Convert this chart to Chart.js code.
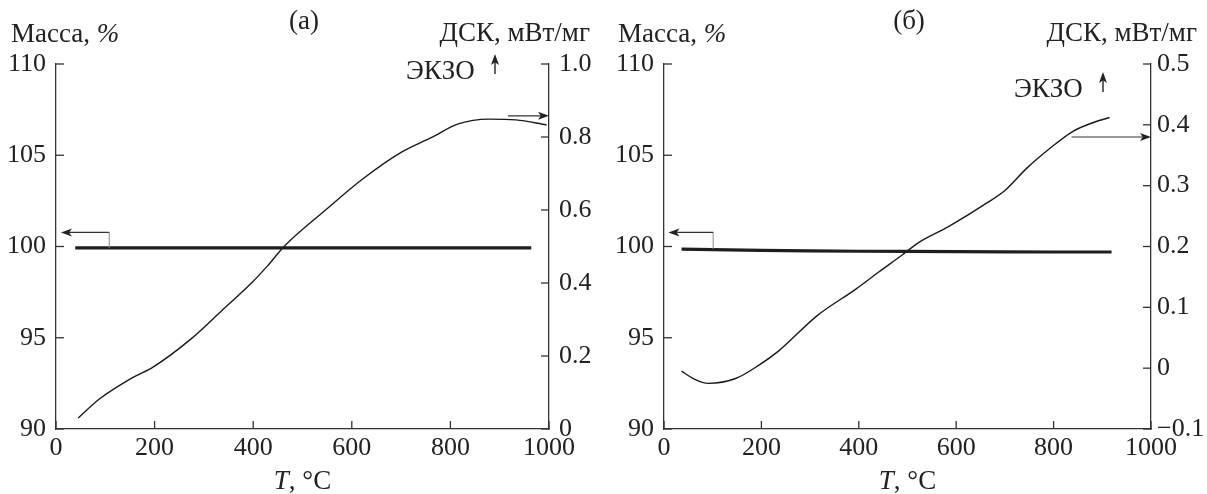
<!DOCTYPE html>
<html>
<head>
<meta charset="utf-8">
<script src="https://cdn.jsdelivr.net/npm/chart.js@4"></script>
<style>
  html, body { margin: 0; padding: 0; background: #fff; }
  #wrap { position: relative; width: 1207px; height: 494px; }
  canvas { position: absolute; top: 0; }
  #chartA { left: 0; }
  #chartB { left: 603px; }
</style>
</head>
<body>
<div id="wrap">
  <canvas id="chartA" width="603" height="494"></canvas>
  <canvas id="chartB" width="604" height="494"></canvas>
</div>
<script>
// ---- data, panel (а) ----
const tempDscA = [45, 88, 157, 196, 274, 336, 398, 429, 464, 545, 622, 700, 762, 816, 878, 933, 995];
const dscA = [0.03, 0.082, 0.142, 0.169, 0.247, 0.324, 0.402, 0.447, 0.502, 0.598, 0.685, 0.758, 0.799, 0.836, 0.849, 0.847, 0.833];
const tempMassA = [39, 200, 400, 600, 800, 964];
const massA = [99.92, 99.92, 99.92, 99.92, 99.92, 99.92];

// ---- data, panel (б) ----
const tempDscB = [36, 60, 91, 147, 195, 235, 314, 394, 441, 489, 522, 585, 664, 700, 744, 792, 839, 879, 915];
const dscB = [-0.005, -0.017, -0.025, -0.017, 0.005, 0.028, 0.086, 0.13, 0.158, 0.186, 0.206, 0.233, 0.272, 0.292, 0.328, 0.361, 0.389, 0.403, 0.412];
const tempMassB = [36, 100, 200, 300, 400, 500, 600, 700, 800, 919];
const massB = [99.86, 99.83, 99.79, 99.76, 99.74, 99.73, 99.72, 99.71, 99.70, 99.70];

// ---- axes ----
const tempTicks = [0, 1000, 200];      // min, max, step
const massTicks = [90, 110, 5];
const dscTicksA = [0, 1, 0.2];
const dscTicksB = [-0.1, 0.5, 0.1];

const FONT = "'Liberation Serif', 'Times New Roman', serif";
const INK = '#222';
const TXT = 27;   // label text size
const TCK = 26;   // tick label size

function pts(xs, ys) { return xs.map((x, i) => ({ x: x, y: ys[i] })); }

function dscLabel(v) {
  if (Math.abs(v) < 1e-9) return '0';
  return (v < 0 ? '\u2212' : '') + Math.abs(v).toFixed(1);
}

function arrowHead(ctx, x, y, dx, dy) {
  const len = 11, half = 4;
  const px = -dy, py = dx;
  ctx.beginPath();
  ctx.moveTo(x, y);
  ctx.lineTo(x - dx * len + px * half, y - dy * len + py * half);
  ctx.lineTo(x - dx * len * 0.75, y - dy * len * 0.75);
  ctx.lineTo(x - dx * len - px * half, y - dy * len - py * half);
  ctx.closePath();
  ctx.fill();
}

// inward tick marks, placed by the chart scales
const inwardTicks = {
  id: 'inwardTicks',
  afterDraw(chart) {
    const ctx = chart.ctx, a = chart.chartArea;
    ctx.save();
    ctx.strokeStyle = '#333';
    ctx.lineWidth = 1.3;
    Object.values(chart.scales).forEach(s => {
      s.ticks.forEach(t => {
        const p = s.getPixelForValue(t.value);
        ctx.beginPath();
        if (s.axis === 'x') { ctx.moveTo(p, a.bottom); ctx.lineTo(p, a.bottom - 8); }
        else if (s.position === 'left') { ctx.moveTo(a.left, p); ctx.lineTo(a.left + 8, p); }
        else { ctx.moveTo(a.right, p); ctx.lineTo(a.right - 8, p); }
        ctx.stroke();
      });
    });
    ctx.restore();
  }
};

// titles, axis names, pointer arrows
const notes = {
  id: 'notes',
  afterDraw(chart, args, o) {
    const ctx = chart.ctx, a = chart.chartArea;
    const xs = chart.scales.x, ym = chart.scales.y, yd = chart.scales.y1;
    const reg = TXT + 'px ' + FONT, ital = 'italic ' + TXT + 'px ' + FONT;
    ctx.save();
    ctx.fillStyle = INK;
    ctx.font = reg;
    ctx.textBaseline = 'alphabetic';

    ctx.textAlign = 'left';
    ctx.fillText('Масса, ', o.massX, 42);
    const w = ctx.measureText('Масса, ').width;
    ctx.font = ital;
    ctx.fillText('%', o.massX + w, 42);

    ctx.font = reg;
    ctx.textAlign = 'center';
    ctx.fillText(o.title, o.titleX, 29);

    ctx.textAlign = 'right';
    ctx.fillText('ДСК, мВт/мг', o.dscX, 41);

    ctx.textAlign = 'left';
    ctx.fillText('ЭКЗО', o.exoX, o.exoY);
    ctx.strokeStyle = INK;
    ctx.lineWidth = 1.4;
    const ax = o.exoX + 89;
    ctx.beginPath(); ctx.moveTo(ax, o.exoY - 5); ctx.lineTo(ax, o.exoY - 20); ctx.stroke();
    arrowHead(ctx, ax, o.exoY - 25, 0, -1);

    // x axis name: italic T
    const cx = (a.left + a.right) / 2;
    ctx.font = ital;
    const wT = ctx.measureText('T').width;
    ctx.font = reg;
    const wRest = ctx.measureText(', °C').width;
    const x0 = cx - (wT + wRest) / 2;
    ctx.textAlign = 'left';
    ctx.font = ital;
    ctx.fillText('T', x0, 489);
    ctx.font = reg;
    ctx.fillText(', °C', x0 + wT, 489);

    // mass pointer arrow (to left axis)
    const m = o.massArrow;
    const p0x = xs.getPixelForValue(m[0][0]), p0y = ym.getPixelForValue(m[0][1]);
    const p1x = xs.getPixelForValue(m[1][0]), p1y = ym.getPixelForValue(m[1][1]);
    const p2x = xs.getPixelForValue(m[2][0]), p2y = ym.getPixelForValue(m[2][1]);
    ctx.lineWidth = 1;
    ctx.strokeStyle = '#8a8a8a';
    ctx.beginPath(); ctx.moveTo(p0x, p0y); ctx.lineTo(p1x, p1y); ctx.stroke();
    ctx.strokeStyle = '#333';
    ctx.lineWidth = 1.2;
    ctx.beginPath(); ctx.moveTo(p1x, p1y); ctx.lineTo(p2x + 8, p2y); ctx.stroke();
    ctx.fillStyle = '#222';
    arrowHead(ctx, p2x, p2y, -1, 0);

    // dsc pointer arrow (to right axis)
    const d = o.dscArrow;
    const q0x = xs.getPixelForValue(d[0][0]), q0y = yd.getPixelForValue(d[0][1]);
    const q1x = xs.getPixelForValue(d[1][0]), q1y = yd.getPixelForValue(d[1][1]);
    ctx.beginPath(); ctx.moveTo(q0x, q0y); ctx.lineTo(q1x - 8, q1y); ctx.stroke();
    arrowHead(ctx, q1x, q1y, 1, 0);
    ctx.restore();
  }
};

function makeChart(id, dscPts, massPts, dscTicks, box, note) {
  const tickFont = { family: FONT, size: TCK };
  return new Chart(document.getElementById(id), {
    type: 'line',
    data: {
      datasets: [
        {
          data: massPts, yAxisID: 'y',
          borderColor: '#1e1e1e', borderWidth: 3.2,
          pointRadius: 0, tension: 0, fill: false
        },
        {
          data: dscPts, yAxisID: 'y1',
          borderColor: '#1a1a1a', borderWidth: 1.4,
          pointRadius: 0, cubicInterpolationMode: 'monotone', fill: false
        }
      ]
    },
    options: {
      responsive: false,
      animation: false,
      events: [],
      layout: { padding: { top: 64, left: 0, right: 0, bottom: 0 } },
      plugins: { legend: { display: false }, tooltip: { enabled: false }, notes: note },
      scales: {
        x: {
          type: 'linear', min: tempTicks[0], max: tempTicks[1],
          grid: { display: false, drawTicks: false },
          border: { display: true, color: '#333', width: 1.3 },
          ticks: { stepSize: tempTicks[2], font: tickFont, color: INK, padding: 4,
                   maxRotation: 0, autoSkip: false, callback: v => String(v) },
          afterFit(s) { s.height = 65; }
        },
        y: {
          position: 'left', min: massTicks[0], max: massTicks[1],
          grid: { display: false, drawTicks: false },
          border: { display: true, color: '#333', width: 1.3 },
          ticks: { stepSize: massTicks[2], font: tickFont, color: INK, padding: 10 },
          afterFit(s) { s.width = box.left; }
        },
        y1: {
          position: 'right', min: dscTicks[0], max: dscTicks[1],
          grid: { display: false, drawTicks: false },
          border: { display: true, color: '#333', width: 1.3 },
          ticks: { stepSize: dscTicks[2], font: tickFont, color: INK, padding: box.rpad, callback: dscLabel },
          afterFit(s) { s.width = box.right; }
        }
      }
    },
    plugins: [inwardTicks, notes]
  });
}

makeChart('chartA', pts(tempDscA, dscA), pts(tempMassA, massA), dscTicksA,
  { left: 56, right: 54, rpad: 10 },
  { title: '(а)', titleX: 304, massX: 11, dscX: 590, exoX: 406, exoY: 79,
    massArrow: [[108, 99.92], [108, 100.77], [10, 100.77]],
    dscArrow: [[917, 0.858], [1000, 0.858]] });

makeChart('chartB', pts(tempDscB, dscB), pts(tempMassB, massB), dscTicksB,
  { left: 61, right: 56, rpad: 6 },
  { title: '(б)', titleX: 306, massX: 15, dscX: 594, exoX: 411, exoY: 97,
    massArrow: [[101, 99.86], [101, 100.77], [9, 100.77]],
    dscArrow: [[837, 0.38], [1000, 0.38]] });
</script>
</body>
</html>
